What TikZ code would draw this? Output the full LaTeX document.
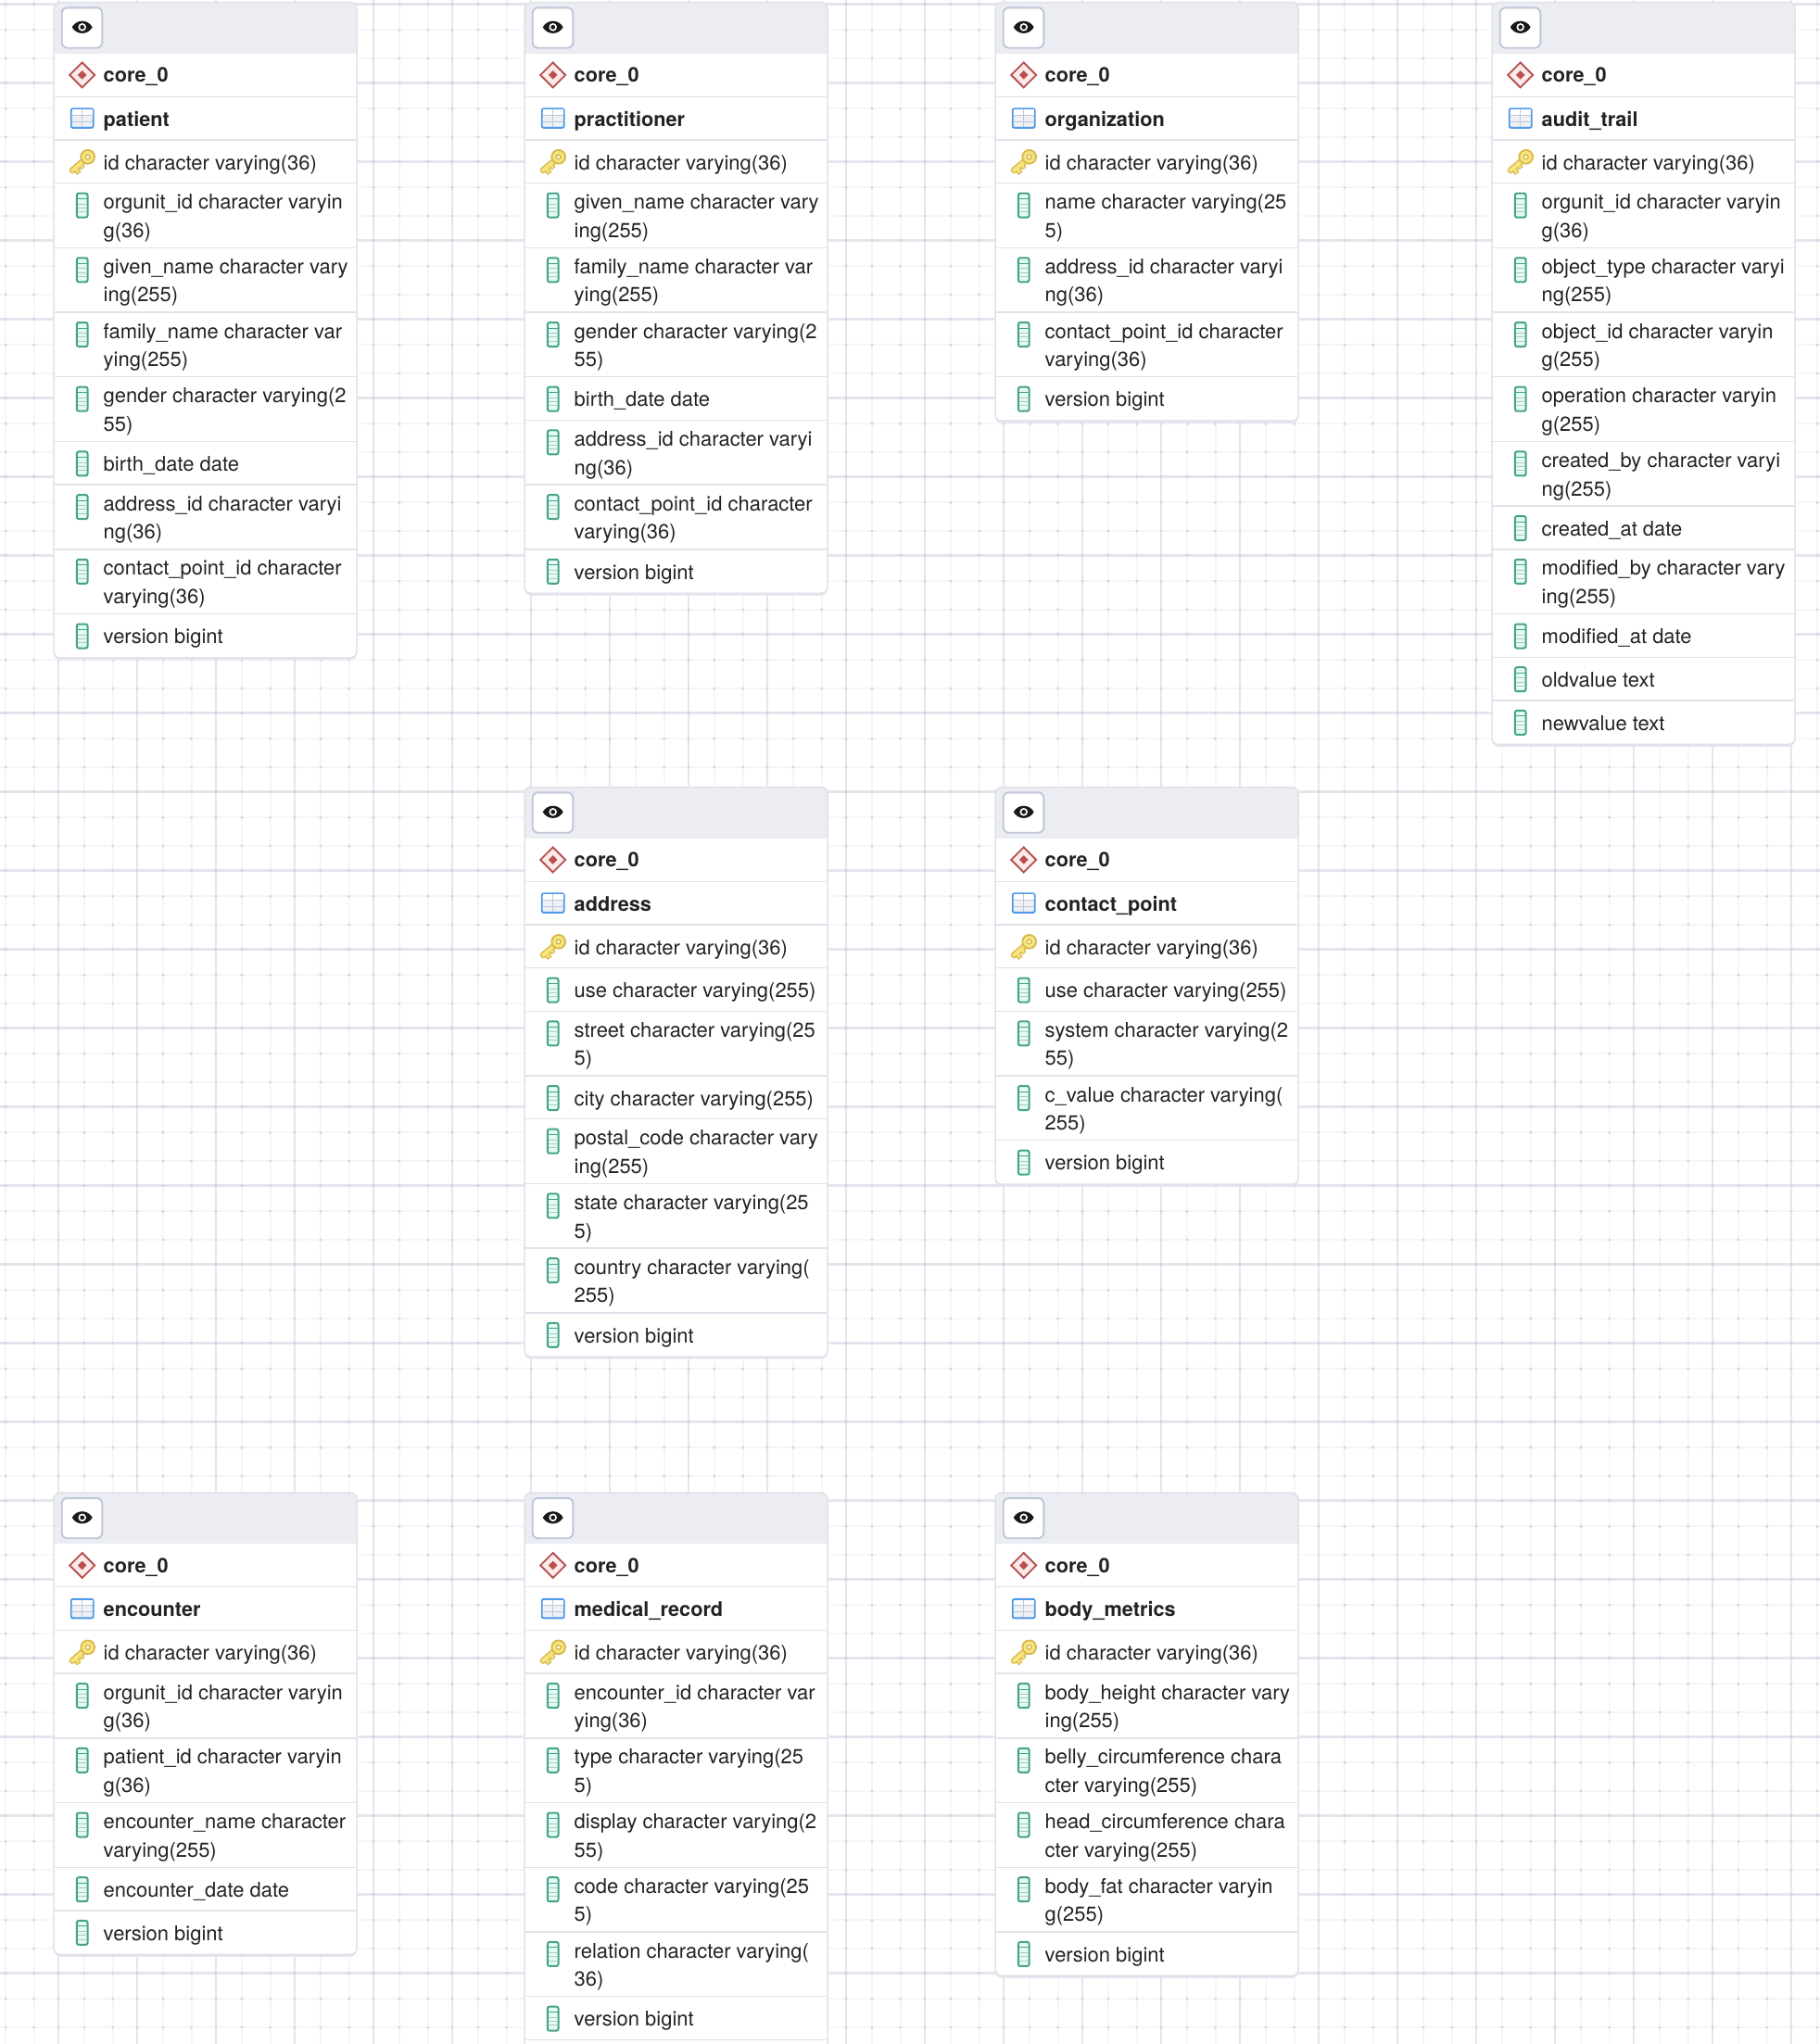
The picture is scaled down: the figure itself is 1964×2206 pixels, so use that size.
\documentclass[tikz,border=0pt]{standalone}
\usepackage{fontspec}
\setmainfont{TeX Gyre Heros}
\definecolor{majorgrid}{HTML}{E4E6ED}
\definecolor{minorgrid}{HTML}{F5F6F9}
\definecolor{griddot}{HTML}{D2D5E0}
\definecolor{cardline}{HTML}{E0E2EA}
\definecolor{cardshadow}{HTML}{E4E6EE}
\definecolor{headfill}{HTML}{EBEDF3}
\definecolor{btnline}{HTML}{C0C6D8}
\definecolor{inktext}{HTML}{222222}
\definecolor{dmdline}{HTML}{B5524F}
\definecolor{dmdfill}{HTML}{FBEAEA}
\definecolor{dmdcore}{HTML}{B9504E}
\definecolor{tblline}{HTML}{4F98EA}
\definecolor{tblfill}{HTML}{EDF0F5}
\definecolor{tblgrid}{HTML}{BFC8D6}
\definecolor{colline}{HTML}{46A388}
\definecolor{colfill}{HTML}{E4FAF4}
\definecolor{colgrid}{HTML}{B4C8C2}
\definecolor{keyline}{HTML}{D8B84C}
\definecolor{keyfill}{HTML}{F6E47E}
\tikzset{
  x=1pt,y=-1pt,
  majorline/.style={draw=majorgrid,line width=2.5pt},
  minorline/.style={draw=minorgrid,line width=2.2pt},
  griddots/.style={fill=griddot},
  cardshade/.style={fill=cardshadow,rounded corners=7pt},
  cardbody/.style={fill=white,rounded corners=7pt},
  cardframe/.style={draw=cardline,line width=1.5pt,rounded corners=7pt},
  headband/.style={fill=headfill},
  rowrule/.style={draw=cardline,line width=1.4pt},
  eyebtn/.style={draw=btnline,line width=1.9pt,fill=white,rounded corners=6pt},
  celltext/.style={anchor=north west,inner sep=0pt,outer sep=0pt,align=left,text=inktext,
    font=\fontsize{21.95pt}{30.5pt}\selectfont},
  boldtext/.style={celltext,font=\fontsize{21.7pt}{30pt}\selectfont\bfseries},
  dmdouter/.style={draw=dmdline,fill=dmdfill,line width=1.9pt},
  dmdinner/.style={fill=dmdcore},
  tblbox/.style={draw=tblline,fill=tblfill,line width=1.9pt,rounded corners=2pt},
  tblhead/.style={fill=white},
  tblrule/.style={draw=tblgrid,line width=1.2pt},
  colbox/.style={draw=colline,fill=colfill,line width=2pt,rounded corners=2pt},
  colrule/.style={draw=colgrid,line width=1pt},
  colrulet/.style={draw=colline,line width=1pt},
  keyo/.style={draw=keyline,line width=7pt},
  keyi/.style={draw=keyfill,line width=4pt},
  keyhead/.style={draw=keyline,fill=keyfill,line width=1.8pt},
  keyhole/.style={draw=keyline,fill=white,line width=1.4pt},
}
% icons
\newcommand{\iconEye}[2]{\begin{scope}[shift={(#1,#2)}]
  \fill[black!90] (-11,0) .. controls (-6,-8.8) and (6,-8.8) .. (11,0) .. controls (6,8.8) and (-6,8.8) .. (-11,0) -- cycle;
  \fill[white] (0,0) circle[radius=4.3];
  \fill[black!90] (0,0) circle[radius=2.4];
\end{scope}}
\newcommand{\iconDmd}[2]{\begin{scope}[shift={(#1,#2)}]
  \path[dmdouter] (-13.5,0) -- (0,-13.5) -- (13.5,0) -- (0,13.5) -- cycle;
  \path[dmdinner] (-4.8,0) -- (0,-4.8) -- (4.8,0) -- (0,4.8) -- cycle;
\end{scope}}
\newcommand{\iconTbl}[2]{\begin{scope}[shift={(#1,#2)}]
  \path[tblbox] (-12,-10.3) rectangle (12,10.3);
  \fill[tblhead] (-11,-9.3) rectangle (11,-3.6);
  \path[tblrule] (-11,-3.4) -- (11,-3.4) (-11,3.5) -- (11,3.5) (0,-9.3) -- (0,9.3);
\end{scope}}
\newcommand{\iconCol}[2]{\begin{scope}[shift={(#1,#2)}]
  \path[colbox] (-5.8,-13) rectangle (5.8,13);
  \path[colrulet] (-5,-7) -- (5,-7);
  \path[colrule] (-5,-1.4) -- (5,-1.4) (-5,2.8) -- (5,2.8) (-5,7.2) -- (5,7.2);
\end{scope}}
\newcommand{\iconKey}[2]{\begin{scope}[shift={(#1,#2)}]
  \path[keyo,line cap=round] (2,-1) -- (-10.5,9.5);
  \path[keyo,line width=5.5pt] (-7.5,7) -- (-3.5,13);
  \path[keyo,line width=5pt] (-2.5,3) -- (0.8,7.5);
  \path[keyi,line cap=round] (2,-1) -- (-10.5,9.5);
  \path[keyi,line width=2.6pt] (-7.5,7) -- (-4,12.2);
  \path[keyi,line width=2.2pt] (-2.5,3) -- (0.3,6.8);
  \path[keyhead] (6,-5) circle[radius=7.4];
  \path[keyhole] (6,-5) circle[radius=2.4];
\end{scope}}
% card builders
\newcommand{\cardbegin}[6]{% id, x, y, table, n single rows, n double rows
  \pgfmathsetmacro\cx{#2}\pgfmathsetmacro\cardtop{#3}
  \pgfmathsetmacro\cardh{55+46.7*#5+69.7*#6}
  \pgfmathsetmacro\cardright{\cx+327}
  \pgfmathsetmacro\cardbot{\cardtop+\cardh}
  \pgfmathsetmacro\icx{\cx+30.7}
  \pgfmathsetmacro\txx{\cx+53.7}
  \def\cid{#1}\def\crow{0}
  \path[cardshade] (\cx,\cardtop) rectangle (\cardright,\cardbot+3.2);
  \path[cardbody] (\cx,\cardtop) rectangle (\cardright,\cardbot);
  \pgfmathsetmacro\cury{\cardtop+55}
  \begin{scope}
    \clip[rounded corners=7pt] (\cx,\cardtop) rectangle (\cardright,\cury+7);
    \path[headband] (\cx,\cardtop) rectangle (\cardright,\cury);
  \end{scope}
  \path[eyebtn] (\cx+8.7,\cardtop+5.8) rectangle (\cx+52.3,\cardtop+49.2);
  \iconEye{\icx}{\cardtop+26.8}
  % schema row
  \pgfmathsetmacro\ny{\cury+11}\iconDmd{\icx}{\cury+23.4}
  \node[boldtext] (\cid-schema) at (\txx,\ny) {\rule{0pt}{20pt}core\_0};
  \rowend{46.7}
  \pgfmathsetmacro\ny{\cury+11.8}\iconTbl{\icx}{\cury+23.4}
  \node[boldtext] (\cid-table) at (\txx,\ny) {\rule{0pt}{20pt}#4};
  \rowend{46.7}
}
\newcommand{\rowend}[1]{%
  \pgfmathsetmacro\cury{\cury+#1}
  \ifdim\cury pt<\cardbot pt
    \path[rowrule] (\cx+1,\cury) -- (\cardright-1,\cury);
  \fi
}
\newcommand{\rowid}[1]{%
  \pgfmathsetmacro\ny{\cury+12.2}\iconKey{\icx}{\cury+23.4}
  \node[celltext] (\cid-id) at (\txx,\ny) {\rule{0pt}{20pt}#1};
  \rowend{46.7}}
\newcommand{\rowone}[2]{%
  \pgfmathsetmacro\ny{\cury+12.2}\iconCol{\icx}{\cury+24}
  \node[celltext] (\cid-#1) at (\txx,\ny) {\rule{0pt}{20pt}#2};
  \rowend{46.7}}
\newcommand{\rowtwo}[3]{%
  \pgfmathsetmacro\ny{\cury+8.1}\iconCol{\icx}{\cury+24}
  \node[celltext] (\cid-#1) at (\txx,\ny) {\rule{0pt}{20pt}#2\\#3};
  \rowend{69.7}}
\newcommand{\cardend}{%
  \path[cardframe] (\cx,\cardtop) rectangle (\cardright,\cardbot+1);}
\begin{document}
\begin{tikzpicture}
\useasboundingbox (0,0) rectangle (1964,2206);
\fill[white] (0,0) rectangle (1964,2206);
% grid
\xdef\gridxs{6,36.7}
\foreach \k in {0,...,22}{\foreach \o in {0,28,58.7}{\pgfmathsetmacro\v{63+85*\k+\o}\xdef\gridxs{\gridxs,\v}}}
\xdef\gridys{-100}
\foreach \k in {0,...,25}{\foreach \o in {0,28,58.7}{\pgfmathsetmacro\v{4.3+85*\k+\o}\xdef\gridys{\gridys,\v}}}
\foreach \v in \gridxs {\path[minorline] (\v,0) -- (\v,2206);}
\foreach \v in \gridys {\path[minorline] (0,\v) -- (1964,\v);}
\foreach \k in {0,...,22} {\path[majorline] (63+85*\k,0) -- (63+85*\k,2206);}
\foreach \k in {0,...,25} {\path[majorline] (0,4.3+85*\k) -- (1964,4.3+85*\k);}
\foreach \a in \gridxs {\fill[griddots] \foreach \b in \gridys {(\a,\b) circle[radius=1.7]};}
% patient
\cardbegin{pat}{58}{2.5}{patient}{5}{6}
\rowid{id character varying(36)}
\rowtwo{a}{orgunit\_id character varyin}{g(36)}
\rowtwo{b}{given\_name character vary}{ing(255)}
\rowtwo{c}{family\_name character var}{ying(255)}
\rowtwo{d}{gender character varying(2}{55)}
\rowone{e}{birth\_date date}
\rowtwo{f}{address\_id character varyi}{ng(36)}
\rowtwo{g}{contact\_point\_id character}{varying(36)}
\rowone{h}{version bigint}
\cardend
% practitioner
\cardbegin{pra}{566}{2.5}{practitioner}{5}{5}
\rowid{id character varying(36)}
\rowtwo{a}{given\_name character vary}{ing(255)}
\rowtwo{b}{family\_name character var}{ying(255)}
\rowtwo{c}{gender character varying(2}{55)}
\rowone{d}{birth\_date date}
\rowtwo{e}{address\_id character varyi}{ng(36)}
\rowtwo{f}{contact\_point\_id character}{varying(36)}
\rowone{g}{version bigint}
\cardend
% organization
\cardbegin{org}{1074}{2.5}{organization}{4}{3}
\rowid{id character varying(36)}
\rowtwo{a}{name character varying(25}{5)}
\rowtwo{b}{address\_id character varyi}{ng(36)}
\rowtwo{c}{contact\_point\_id character}{varying(36)}
\rowone{d}{version bigint}
\cardend
% audit trail
\cardbegin{aud}{1610}{2.5}{audit\_trail}{7}{6}
\rowid{id character varying(36)}
\rowtwo{a}{orgunit\_id character varyin}{g(36)}
\rowtwo{b}{object\_type character varyi}{ng(255)}
\rowtwo{c}{object\_id character varyin}{g(255)}
\rowtwo{d}{operation character varyin}{g(255)}
\rowtwo{e}{created\_by character varyi}{ng(255)}
\rowone{f}{created\_at date}
\rowtwo{g}{modified\_by character vary}{ing(255)}
\rowone{h}{modified\_at date}
\rowone{i}{oldvalue text}
\rowone{j}{newvalue text}
\cardend
% address
\cardbegin{adr}{566}{849.5}{address}{6}{4}
\rowid{id character varying(36)}
\rowone{a}{use character varying(255)}
\rowtwo{b}{street character varying(25}{5)}
\rowone{c}{city character varying(255)}
\rowtwo{d}{postal\_code character vary}{ing(255)}
\rowtwo{e}{state character varying(25}{5)}
\rowtwo{f}{country character varying(}{255)}
\rowone{g}{version bigint}
\cardend
% contact point
\cardbegin{con}{1074}{849.5}{contact\_point}{5}{2}
\rowid{id character varying(36)}
\rowone{a}{use character varying(255)}
\rowtwo{b}{system character varying(2}{55)}
\rowtwo{c}{c\_value character varying(}{255)}
\rowone{d}{version bigint}
\cardend
% encounter
\cardbegin{enc}{58}{1611}{encounter}{5}{3}
\rowid{id character varying(36)}
\rowtwo{a}{orgunit\_id character varyin}{g(36)}
\rowtwo{b}{patient\_id character varyin}{g(36)}
\rowtwo{c}{encounter\_name character}{varying(255)}
\rowone{d}{encounter\_date date}
\rowone{e}{version bigint}
\cardend
% medical record
\cardbegin{med}{566}{1611}{medical\_record}{4}{6}
\rowid{id character varying(36)}
\rowtwo{a}{encounter\_id character var}{ying(36)}
\rowtwo{b}{type character varying(25}{5)}
\rowtwo{c}{display character varying(2}{55)}
\rowtwo{d}{code character varying(25}{5)}
\rowtwo{e}{relation character varying(}{36)}
\rowone{f}{version bigint}
\cardend
% body metrics
\cardbegin{bod}{1074}{1611}{body\_metrics}{4}{4}
\rowid{id character varying(36)}
\rowtwo{a}{body\_height character vary}{ing(255)}
\rowtwo{b}{belly\_circumference chara}{cter varying(255)}
\rowtwo{c}{head\_circumference chara}{cter varying(255)}
\rowtwo{d}{body\_fat character varyin}{g(255)}
\rowone{e}{version bigint}
\cardend
\end{tikzpicture}
\end{document}
